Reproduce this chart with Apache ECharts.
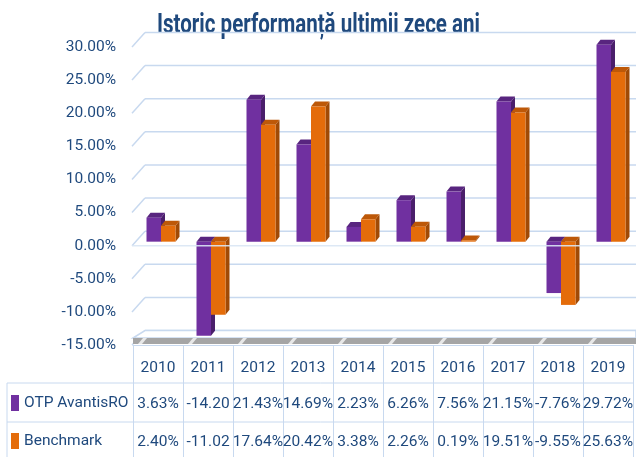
<!DOCTYPE html>
<html>
<head>
<meta charset="utf-8">
<script src="https://cdn.jsdelivr.net/npm/echarts@6/dist/echarts.min.js"></script>
<style>
  html, body { margin: 0; padding: 0; background: #fff; }
  #chart { width: 636px; height: 457px; }
</style>
</head>
<body>
<div id="chart"></div>
<script>
const years = ['2010', '2011', '2012', '2013', '2014', '2015', '2016', '2017', '2018', '2019']
const otpValues = [3.63, -14.20, 21.43, 14.69, 2.23, 6.26, 7.56, 21.15, -7.76, 29.72]
const benchValues = [2.40, -11.02, 17.64, 20.42, 3.38, 2.26, 0.19, 19.51, -9.55, 25.63]
const seriesNames = ['OTP AvantisRO', 'Benchmark']
const tickValues = [-15, -10, -5, 0, 5, 10, 15, 20, 25, 30]
const titleText = 'Istoric performanță ultimii zece ani'

const FONT = "Roboto, 'Liberation Sans', sans-serif"
const FS = 15.5
const TEXT = '#1F497D'
const GRID_LINE = '#C8D9EF'
const faces = [
    { front: '#7030A0', top: '#58257F', side: '#4A1F6B' },
    { front: '#E46C0A', top: '#BD5808', side: '#A04A06' }
]
// 3D look: back wall offset and bar depth
const WALL_DX = 13, WALL_DY = 14.5
const BAR_DX = 4, BAR_DY = 5

const fmt = (v) => v.toFixed(2) + '%'

// title is squeezed horizontally like the condensed original
const measure = document.createElement('canvas').getContext('2d')
measure.font = 'bold 27px ' + FONT
const titleScale = 323 / measure.measureText(titleText).width

const barSeries = (values, k) => ({
    name: seriesNames[k],
    type: 'custom',
    z: 3,
    itemStyle: { color: faces[k].front },
    data: values.map((v, i) => [i, v]),
    encode: { x: 0, y: 1 },
    renderItem: (params, api) => {
        const i = api.value(0)
        const v = api.value(1)
        const base = api.coord([i, 0])
        const p = api.coord([i, v])
        const bw = api.size([1, 0])[0] * 0.29
        const cx = base[0] + 3
        const x1 = k === 0 ? cx - bw : cx
        const x2 = x1 + bw
        const yTop = Math.min(p[1], base[1]) - 4
        const yBot = Math.max(p[1], base[1]) - 4
        const f = faces[k]
        return {
            type: 'group',
            children: [
                { type: 'polygon', shape: { points: [[x2, yTop], [x2 + BAR_DX, yTop - BAR_DY], [x2 + BAR_DX, yBot - BAR_DY], [x2, yBot]] }, style: { fill: f.side } },
                { type: 'polygon', shape: { points: [[x1, yTop], [x1 + BAR_DX, yTop - BAR_DY], [x2 + BAR_DX, yTop - BAR_DY], [x2, yTop]] }, style: { fill: f.top } },
                { type: 'rect', shape: { x: x1, y: yTop, width: x2 - x1, height: yBot - yTop }, style: { fill: f.front } }
            ]
        }
    }
})

const rowAxis = (gridIndex, data, margin) => ({
    type: 'category',
    gridIndex,
    data,
    axisLine: { show: false, onZero: false },
    axisTick: { show: false },
    splitLine: { show: false },
    splitArea: { show: false },
    axisLabel: { interval: 0, margin, fontFamily: FONT, fontSize: FS, color: TEXT, width: 52, overflow: 'truncate', ellipsis: '' }
})

const myChart = echarts.init(document.getElementById('chart'))

const option = {
    animation: false,
    legend: {
        data: seriesNames,
        orient: 'vertical',
        left: 11,
        top: 395,
        padding: 0,
        icon: 'rect',
        itemWidth: 8,
        itemHeight: 16,
        itemGap: 22,
        selectedMode: false,
        textStyle: { fontFamily: FONT, fontSize: FS, color: TEXT }
    },
    grid: [
        { left: 133, top: 47, width: 500, height: 298, outerBoundsMode: 'none' },
        // invisible grids whose x axes carry the data table rows
        { left: 133, top: 0, width: 500, height: 383, outerBoundsMode: 'none' },
        { left: 133, top: 0, width: 500, height: 422, outerBoundsMode: 'none' }
    ],
    xAxis: [
        {
            type: 'category',
            data: years,
            axisLine: { onZero: false, lineStyle: { color: GRID_LINE } },
            axisTick: { show: true, length: 112, lineStyle: { color: GRID_LINE } },
            splitLine: { show: false },
            splitArea: { show: false },
            axisLabel: { interval: 0, margin: 15, fontFamily: FONT, fontSize: FS, color: TEXT }
        },
        rowAxis(1, otpValues.map(fmt), 13),
        rowAxis(2, benchValues.map(fmt), 12)
    ],
    yAxis: [
        {
            type: 'value',
            min: -15,
            max: 30,
            interval: 5,
            axisLine: { show: false },
            axisTick: { show: false },
            splitLine: { show: false },
            axisLabel: {
                margin: 17,
                padding: [5, 0, 0, 0],
                fontFamily: FONT,
                fontSize: FS,
                color: TEXT,
                formatter: fmt
            }
        },
        { type: 'value', gridIndex: 1, show: false },
        { type: 'value', gridIndex: 2, show: false }
    ],
    graphic: [
        {
            type: 'text',
            x: 157,
            y: 26,
            scaleX: titleScale,
            style: { text: titleText, font: 'bold 27px ' + FONT, fill: TEXT, verticalAlign: 'middle' }
        },
        // data table borders, left column part
        { type: 'line', shape: { x1: 7, y1: 383, x2: 634, y2: 383 }, style: { stroke: GRID_LINE, lineWidth: 1 } },
        { type: 'line', shape: { x1: 7, y1: 422, x2: 634, y2: 422 }, style: { stroke: GRID_LINE, lineWidth: 1 } },
        { type: 'line', shape: { x1: 7, y1: 383, x2: 7, y2: 457 }, style: { stroke: GRID_LINE, lineWidth: 1 } }
    ],
    series: [
        {
            // side wall + back wall gridlines
            type: 'custom',
            z: 1,
            silent: true,
            data: tickValues.map((v) => [0, v]),
            encode: { x: 0, y: 1 },
            renderItem: (params, api) => {
                const y = api.coord([0, api.value(1)])[1]
                const x0 = params.coordSys.x - 1
                const W = api.getWidth()
                return {
                    type: 'group',
                    children: [
                        { type: 'line', shape: { x1: x0, y1: y, x2: x0 + WALL_DX, y2: y - WALL_DY }, style: { stroke: GRID_LINE, lineWidth: 1.5 } },
                        { type: 'line', shape: { x1: x0 + WALL_DX, y1: y - WALL_DY, x2: W, y2: y - WALL_DY }, style: { stroke: GRID_LINE, lineWidth: 1.5 } }
                    ]
                }
            }
        },
        {
            // floor slab at the bottom of the value axis
            type: 'custom',
            z: 1,
            silent: true,
            data: [[0, -15]],
            encode: { x: 0, y: 1 },
            renderItem: (params, api) => {
                const y = api.coord([0, api.value(1)])[1]
                const x0 = params.coordSys.x
                const W = api.getWidth()
                const step = api.size([1, 0])[0]
                const children = [
                    { type: 'polygon', shape: { points: [[x0, y - 7], [x0 + WALL_DX - 1, y - WALL_DY], [W, y - WALL_DY], [W, y - 7]] }, style: { fill: '#fff', stroke: GRID_LINE, lineWidth: 1.5 } },
                    { type: 'rect', shape: { x: x0, y: y - 7, width: W - x0, height: 6 }, style: { fill: '#A5A5A5' } }
                ]
                for (let i = 0; i < years.length; i++) {
                    const sx = x0 + step * i + 5
                    children.push({ type: 'polygon', shape: { points: [[sx, y - 1], [sx + 5, y - 7], [sx + 9, y - 7], [sx + 4, y - 1]] }, style: { fill: '#E8E8E8' } })
                }
                return { type: 'group', children }
            }
        },
        barSeries(otpValues, 0),
        barSeries(benchValues, 1),
        {
            // front edge of the zero plane
            type: 'custom',
            z: 5,
            silent: true,
            data: [[0, 0]],
            encode: { x: 0, y: 1 },
            renderItem: (params, api) => {
                const y = api.coord([0, 0])[1]
                const x0 = params.coordSys.x - 1
                return { type: 'line', shape: { x1: x0, y1: y, x2: api.getWidth(), y2: y }, style: { stroke: '#D9E5F4', lineWidth: 1.5, opacity: 0.9 } }
            }
        }
    ]
}

myChart.setOption(option)
</script>
</body>
</html>
